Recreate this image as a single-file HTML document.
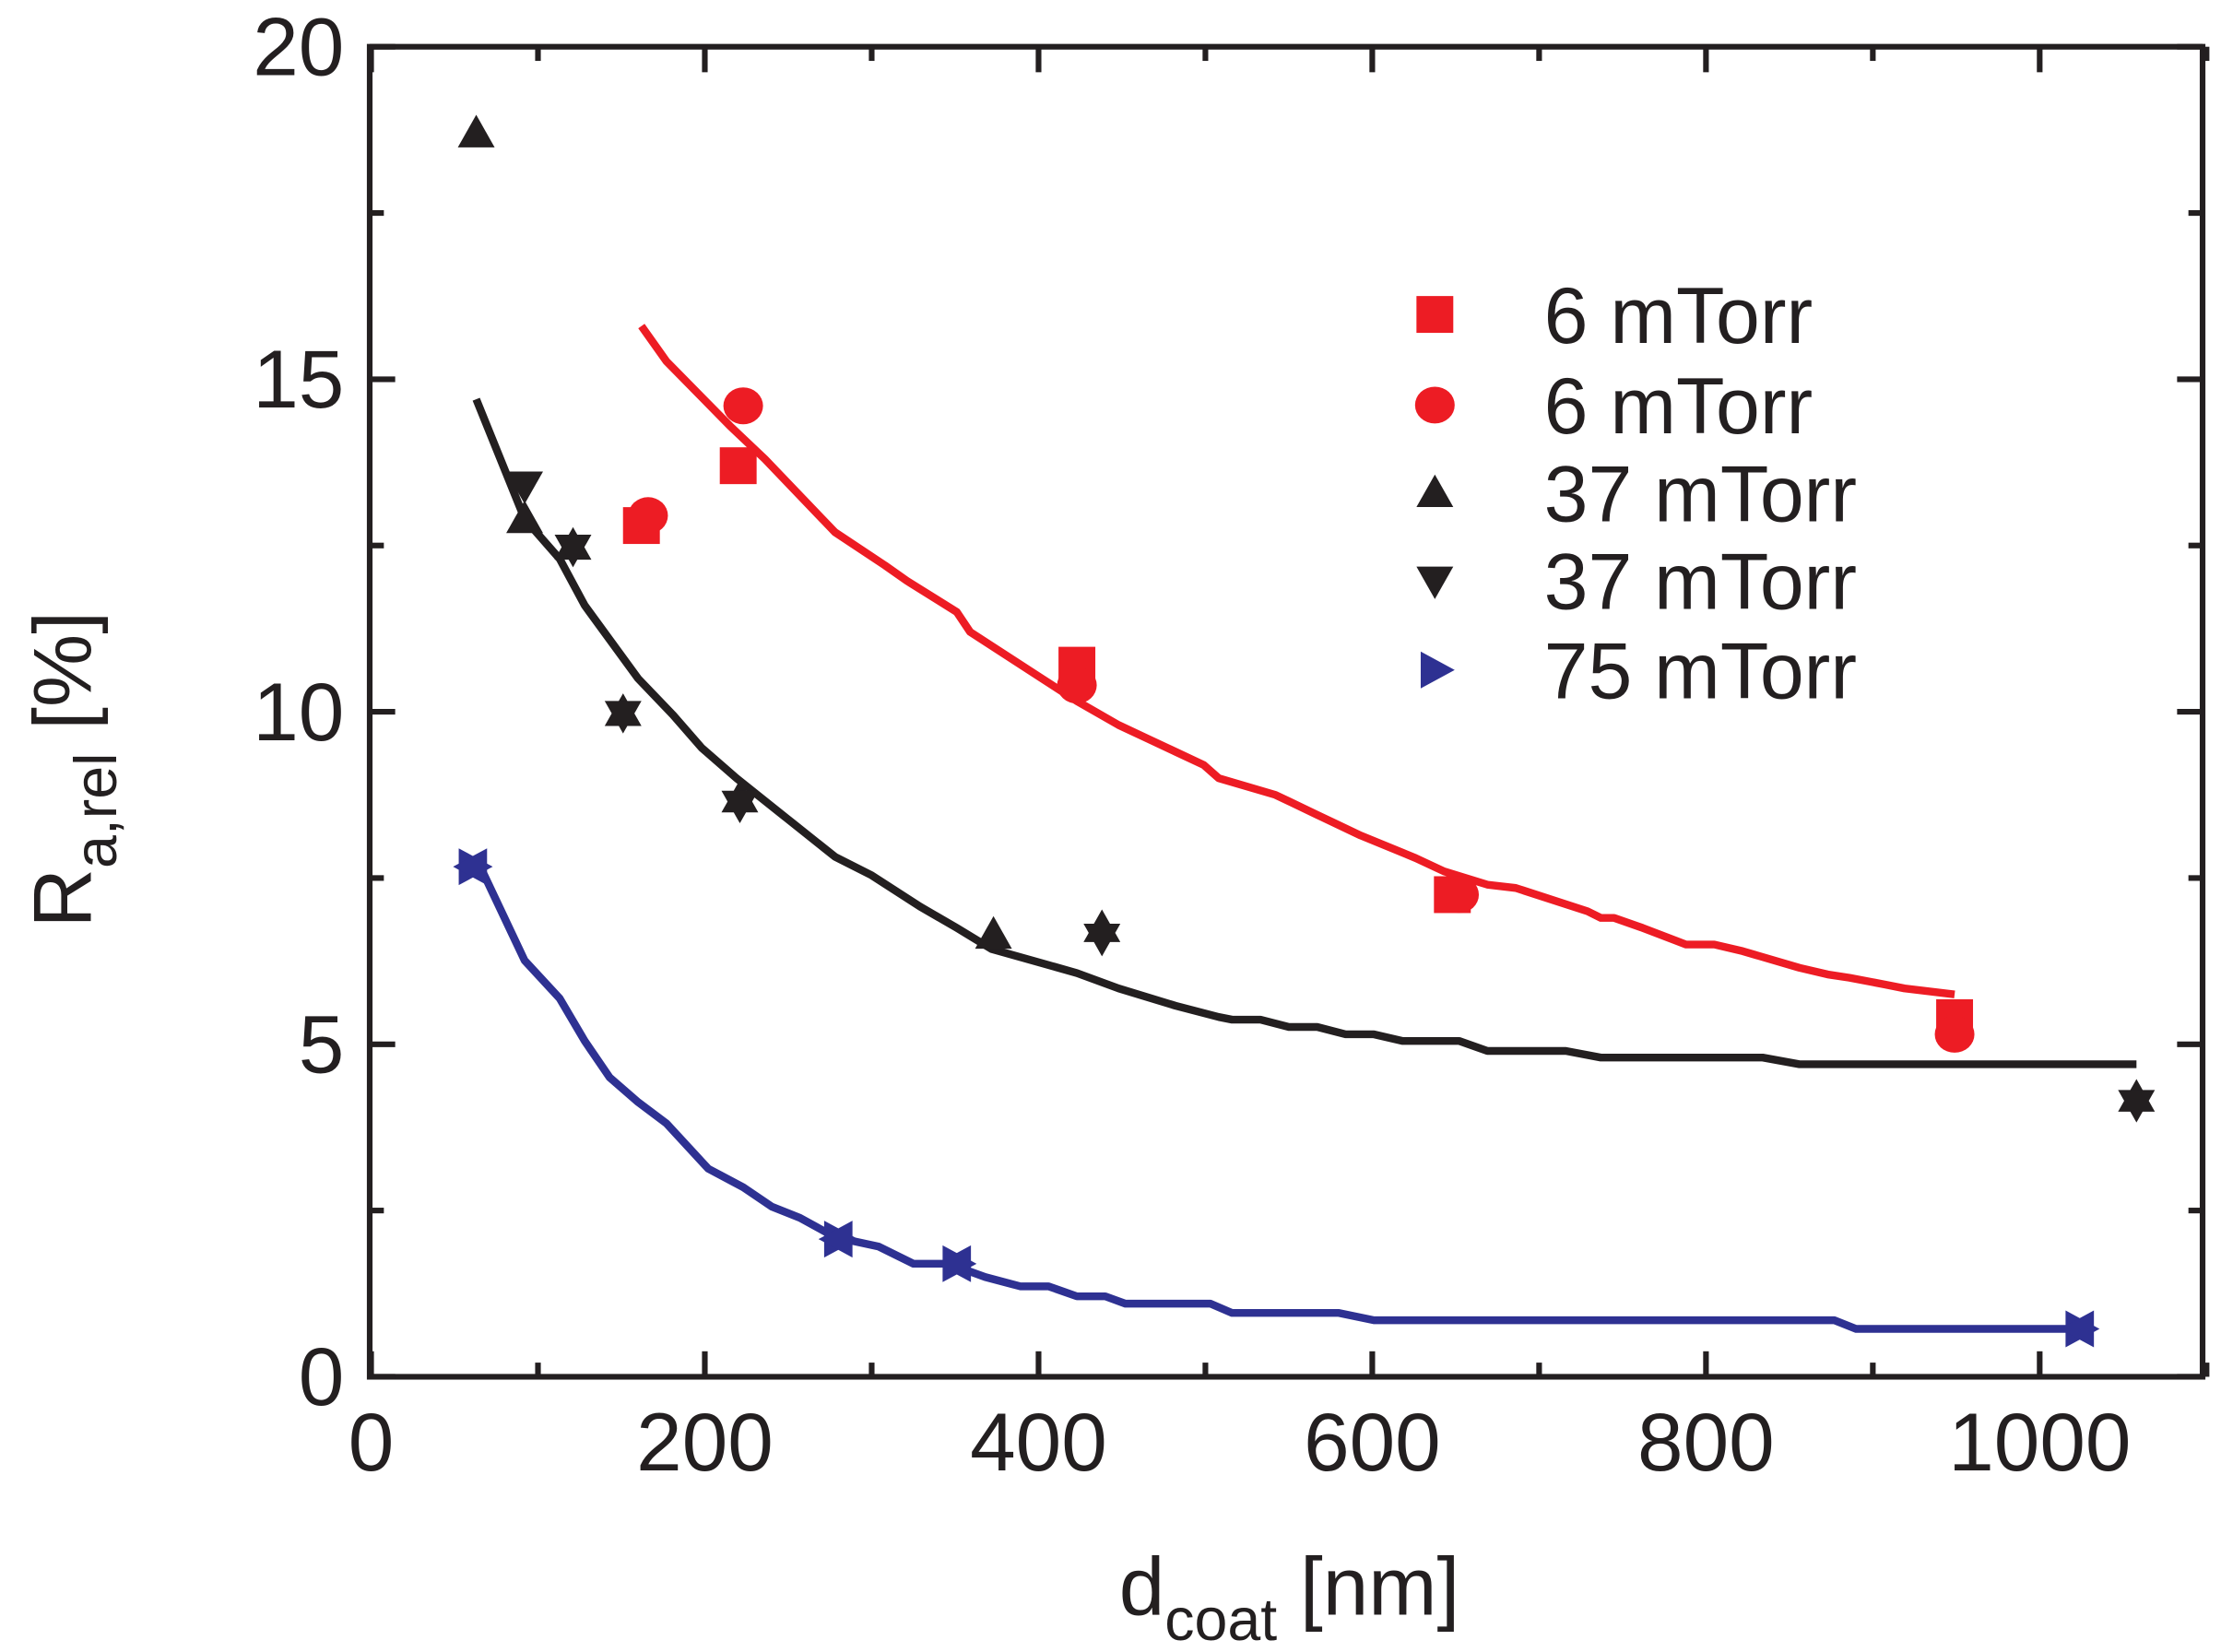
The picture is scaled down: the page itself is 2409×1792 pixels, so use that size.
<!DOCTYPE html>
<html><head><meta charset="utf-8"><style>html,body{margin:0;padding:0;background:#fff}svg{display:block}</style></head>
<body>
<svg id="chart" width="2409" height="1792" viewBox="0 0 1568 1166.3" preserveAspectRatio="none" xmlns="http://www.w3.org/2000/svg" font-family="'Liberation Sans', sans-serif">
<g id="axes"></g>
<g id="series"></g>
<g id="legend"></g>
<text x="790" y="1140" font-size="58" fill="#231f20">d<tspan font-size="42" dy="18">coat</tspan><tspan dy="-18"> [nm]</tspan></text>
<text transform="translate(64,655) rotate(-90)" font-size="58" fill="#231f20">R<tspan font-size="42" dy="18">a,rel</tspan><tspan dy="-18"> [%]</tspan></text>
</svg>
<script>
const xTicks=[0,200,400,600,800,1000];
const yTicks=[0,5,10,15,20];
const redLineX=[162,177,215,236,278,308,321,351,359,402,423,448,465,482,499,508,542,567,593,626,643,669,686,729,737,745,762,788,805,822,856,873,886,907,919,949];
const redLineY=[15.8,15.27,14.3,13.8,12.7,12.2,11.97,11.5,11.2,10.5,10.16,9.8,9.6,9.4,9.2,9.0,8.75,8.45,8.14,7.8,7.6,7.4,7.35,7.0,6.9,6.9,6.75,6.5,6.5,6.4,6.15,6.05,6.0,5.9,5.84,5.75];
const blackLineX=[63,92,113,128,160,181,198,219,249,278,300,329,351,372,402,423,448,482,508,516,533,550,567,584,601,618,652,669,716,737,834,856,1058];
const blackLineY=[14.7,12.9,12.3,11.6,10.5,9.95,9.46,9.0,8.4,7.82,7.54,7.07,6.75,6.43,6.22,6.07,5.84,5.58,5.41,5.37,5.37,5.26,5.26,5.15,5.15,5.05,5.05,4.9,4.9,4.8,4.8,4.7,4.7];
const blueLineX=[63,92,113,128,143,160,177,202,223,240,257,278,304,325,346,368,389,406,423,440,452,503,516,580,601,877,890,1025];
const blueLineY=[7.8,6.26,5.69,5.05,4.5,4.13,3.81,3.13,2.85,2.56,2.39,2.1,1.96,1.7,1.7,1.5,1.36,1.36,1.21,1.21,1.1,1.1,0.96,0.96,0.85,0.85,0.72,0.72];
const sqX=[162,220,423,648,949], sqY=[12.8,13.7,10.7,7.25,5.4];
const ciX=[166,223,423,652,949], ciY=[12.95,14.6,10.4,7.25,5.15];
const upX=[63,92,121,151,221,373,438,1058], upY=[18.7,12.9,12.5,10.0,8.7,6.65,6.75,4.2];
const dnX=[92,121,151,221,438,1058], dnY=[13.4,12.45,9.95,8.6,6.6,4.1];
const rtX=[61,280,351,1024], rtY=[7.67,2.07,1.7,0.72];
const legendLabels=["6 mTorr","6 mTorr","37 mTorr","37 mTorr","75 mTorr"];

const NS="http://www.w3.org/2000/svg";
const L=261,R=1555,T=33,B=972;
const sx=v=>262+v*1.178;
const sy=v=>972-v*46.95;
const RED="#ed1c24",BLK="#231f20",BLU="#2e3192";
function mk(tag,attrs,parent){const e=document.createElementNS(NS,tag);for(const k in attrs)e.setAttribute(k,attrs[k]);parent.appendChild(e);return e;}
const axes=document.getElementById('axes'),series=document.getElementById('series'),legend=document.getElementById('legend');
const frame=mk('rect',{x:L,y:T,width:R-L,height:B-T,fill:'none',stroke:BLK,'stroke-width':4},axes);


for(let v=0;v<=1100;v+=100){const x=sx(v);const len=v%200===0?18:10;
 const t1=mk('line',{x1:x,x2:x,y1:B,y2:B-len,stroke:BLK,'stroke-width':4},axes);
 
 
 const t2=mk('line',{x1:x,x2:x,y1:T,y2:T+len,stroke:BLK,'stroke-width':4},axes);
 
 }
for(let v=0;v<=20;v+=2.5){const y=sy(v);const len=v%5===0?18:10;
 const t1=mk('line',{x1:L,x2:L+len,y1:y,y2:y,stroke:BLK,'stroke-width':4},axes);
 
 
 const t2=mk('line',{x1:R,x2:R-len,y1:y,y2:y,stroke:BLK,'stroke-width':4},axes);
 
 }
xTicks.forEach(v=>{const t=mk('text',{x:sx(v),y:1038,'font-size':58,'text-anchor':'middle',fill:BLK},axes);t.textContent=v;
 
 });
yTicks.forEach(v=>{const t=mk('text',{x:243,y:sy(v)+20,'font-size':58,'text-anchor':'end',fill:BLK},axes);t.textContent=v;
 
 });
function line(xs,ys,c,name){const p=mk('polyline',{points:xs.map((x,i)=>sx(x)+','+sy(ys[i])).join(' '),fill:'none',stroke:c,'stroke-width':5.5,'stroke-linejoin':'round'},series);
 
 }
line(redLineX,redLineY,RED,'fit-line-6mtorr');
line(blackLineX,blackLineY,BLK,'fit-line-37mtorr');
line(blueLineX,blueLineY,BLU,'fit-line-75mtorr');
function marker(type,x,y,c,parent){let e;const s=13;
 if(type==='sq')e=mk('rect',{x:x-s,y:y-s,width:2*s,height:2*s,fill:c},parent);
 else if(type==='ci')e=mk('ellipse',{cx:x,cy:y,rx:14,ry:13,fill:c},parent);
 else if(type==='up')e=mk('polygon',{points:`${x},${y-13} ${x+13},${y+10} ${x-13},${y+10}`,fill:c},parent);
 else if(type==='dn')e=mk('polygon',{points:`${x},${y+13} ${x+13},${y-10} ${x-13},${y-10}`,fill:c},parent);
 else if(type==='rt')e=mk('polygon',{points:`${x+14},${y} ${x-10},${y-13} ${x-10},${y+13}`,fill:c},parent);
 else e=mk('polygon',{points:`${x-14},${y} ${x+10},${y-13} ${x+10},${y+13}`,fill:c},parent);
 return e;}
function pts(type,xs,ys,c,name){xs.forEach((v,i)=>{const e=marker(type,sx(v),sy(ys[i]),c,series);
 
 });}
pts('sq',sqX,sqY,RED,'point-6mtorr-square');
pts('ci',ciX,ciY,RED,'point-6mtorr-circle');
pts('up',upX,upY,BLK,'point-37mtorr-up');
pts('dn',dnX,dnY,BLK,'point-37mtorr-down');
pts('rt',rtX,rtY,BLU,'point-75mtorr-right');
pts('lt',rtX,rtY,BLU,'point-75mtorr-left');
const legTypes=['sq','ci','up','dn','rt'],legCols=[RED,RED,BLK,BLK,BLU],legY=[222,286,348,410,473];
legendLabels.forEach((lab,i)=>{const m=marker(legTypes[i],1013,legY[i],legCols[i],legend);
 
 
 const t=mk('text',{x:1090,y:legY[i]+20,'font-size':56,fill:BLK},legend);t.textContent=lab;
 
 });
</script>
</body></html>
